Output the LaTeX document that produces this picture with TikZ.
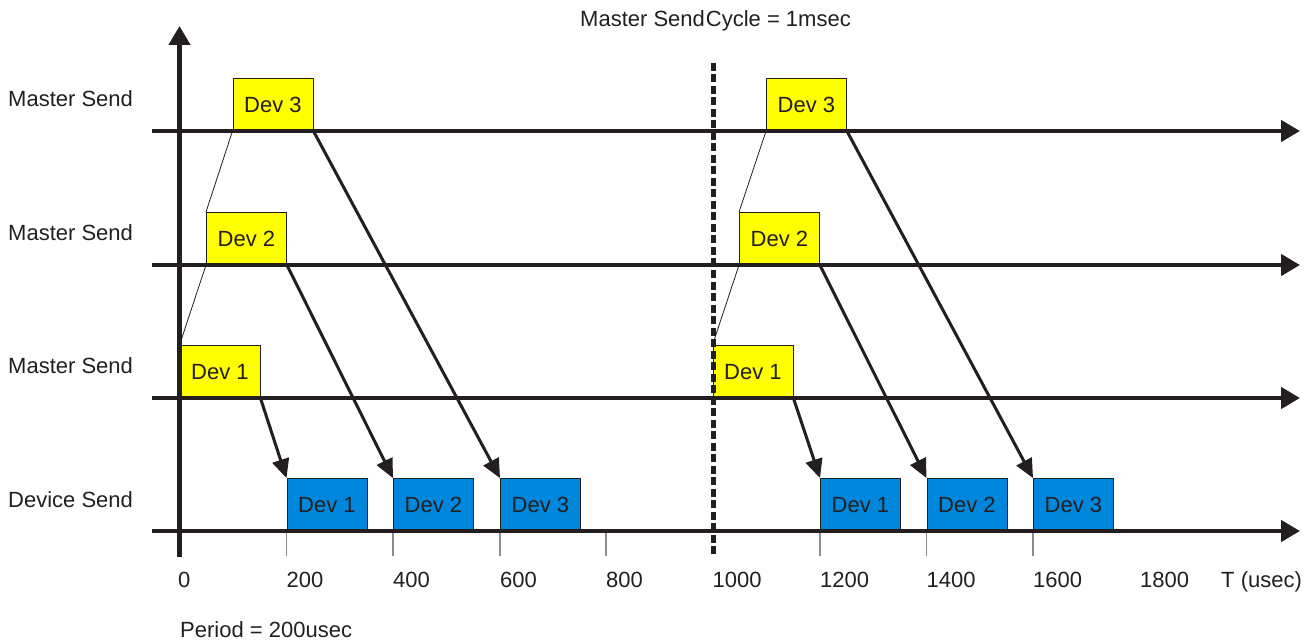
\documentclass[tikz,border=0pt]{standalone}
\usepackage{xcolor}
\usepackage{fontspec}
\setmainfont{Liberation Sans}
\usetikzlibrary{arrows.meta}
\definecolor{inkColor}{RGB}{35,31,32}
\definecolor{masterColor}{RGB}{255,255,0}
\definecolor{deviceColor}{RGB}{0,135,220}
\definecolor{tickColor}{RGB}{140,140,140}

\begin{document}
\begin{tikzpicture}[x=1pt, y=-1pt,
    master/.style={rectangle, draw=inkColor, line width=0.9pt, fill=masterColor, minimum width=80pt, minimum height=52pt, anchor=south west, inner sep=0pt, text=inkColor, font=\fontsize{22}{26}\selectfont},
    device/.style={master, fill=deviceColor},
    txt/.style={anchor=base west, inner sep=0pt, text=inkColor, font=\fontsize{22}{26}\selectfont},
    timeline/.style={line width=4.5pt, draw=inkColor, -{Triangle[length=19pt, width=21pt]}},
    msg/.style={line width=3pt, draw=inkColor, -{Triangle[length=19pt, width=17pt]}},
    link/.style={line width=0.8pt, draw=inkColor},
    tickmark/.style={line width=1.2pt, draw=tickColor}
]
    \useasboundingbox (0,0) rectangle (1316,644);

    % Row labels
    \node[txt] (row3) at (8,107) {Master Send};
    \node[txt] (row2) at (8,240.5) {Master Send};
    \node[txt] (row1) at (8,373.5) {Master Send};
    \node[txt] (rowd) at (8,507) {Device Send};

    % Master frames, first cycle
    \node[master] (m1a) at (179.5,398) {Dev 1};
    \node[master] (m2a) at (206,265) {Dev 2};
    \node[master] (m3a) at (232.5,131) {Dev 3};
    % Master frames, second cycle
    \node[master] (m1b) at (712.5,398) {Dev 1};
    \node[master] (m2b) at (739,265) {Dev 2};
    \node[master] (m3b) at (766,131) {Dev 3};

    % Device frames
    \node[device] (d1a) at (286.5,531) {Dev 1};
    \node[device] (d2a) at (393,531) {Dev 2};
    \node[device] (d3a) at (500,531) {Dev 3};
    \node[device] (d1b) at (820,531) {Dev 1};
    \node[device] (d2b) at (926.5,531) {Dev 2};
    \node[device] (d3b) at (1033,531) {Dev 3};

    % Ticks and time labels
    \foreach \x in {286.5,393,500,606,820,926.5,1033}
        \draw[tickmark] (\x,532) -- (\x,556);
    \foreach \v/\x in {0/178,200/286.5,400/393,600/500,800/606,1000/712.5,1200/820,1400/926.5,1600/1033,1800/1140}
        \node[txt] (t\v) at (\x,587) {\v};
    \node[txt] (tunit) at (1221,587) {T (usec)};

    % Time lines
    \foreach \y in {131,265,398,531}
        \draw[timeline] (152,\y) -- (1300,\y);
    \draw[timeline] (179.5,557) -- (179.5,26);
    \draw[line width=5pt, draw=inkColor, dash pattern=on 8pt off 3.5pt] (713,63) -- (713,557);

    % Master to device
    \draw[msg] (m1a.south east) -- (d1a.north west);
    \draw[msg] (m2a.south east) -- (d2a.north west);
    \draw[msg] (m3a.south east) -- (d3a.north west);
    \draw[msg] (m1b.south east) -- (d1b.north west);
    \draw[msg] (m2b.south east) -- (d2b.north west);
    \draw[msg] (m3b.south east) -- (d3b.north west);

    % Staggered sends
    \draw[link] (m1a.north west) -- (m2a.south west);
    \draw[link] (m2a.north west) -- (m3a.south west);
    \draw[link] (m1b.north west) -- (m2b.south west);
    \draw[link] (m2b.north west) -- (m3b.south west);

    % Captions
    \node[txt] (cycle) at (580,26.5) {Master Send\hspace{1pt}Cycle = 1msec};
    \node[txt] (period) at (180,637) {Period = 200usec};
\end{tikzpicture}
\end{document}
